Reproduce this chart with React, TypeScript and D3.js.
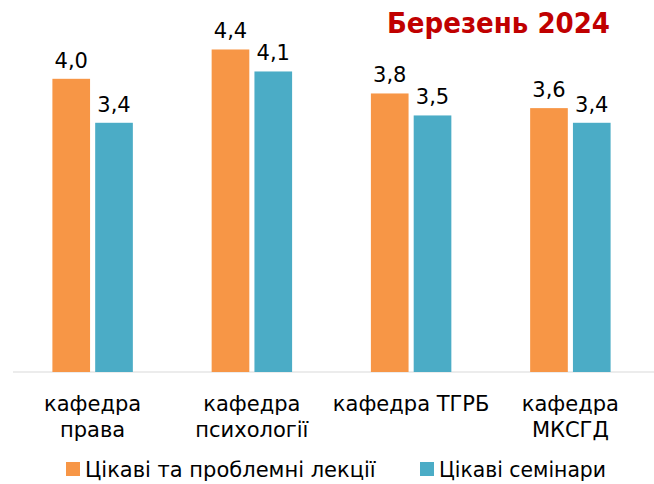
import React from "react";
import * as d3 from "d3";

const categories = ["кафедра права", "кафедра психології", "кафедра ТГРБ", "кафедра МКСГД"];
const categoryLines = [["кафедра", "права"], ["кафедра", "психології"], ["кафедра ТГРБ"], ["кафедра", "МКСГД"]];
const seriesNames = ["Цікаві та проблемні лекції", "Цікаві семінари"];
const lectures = [4.0, 4.4, 3.8, 3.6];
const seminars = [3.4, 4.1, 3.5, 3.4];
const title = "Березень 2024";

const W = 654;
const H = 484;
const colors = ["#F79646", "#4BACC6"];
const font = "'DejaVu Sans', sans-serif";
const titleFont = "'DejaVu Sans Condensed', 'DejaVu Sans', sans-serif";

export default function App() {
  const x = d3.scaleBand<string>().domain(categories).range([13, 650]).paddingInner(0).paddingOuter(0);
  const inner = d3.scaleBand<number>().domain([0, 1]).range([39.4, x.bandwidth() - 39.4]).paddingInner(0.12);
  const y = d3.scaleLinear().domain([0, 5]).range([372, 5.5]);
  const series = [lectures, seminars];
  const fmt = (v: number) => v.toFixed(1).replace(".", ",");

  return (
    <svg width={W} height={H} style={{ position: "absolute", left: 0, top: 0, background: "#fff" }} fontFamily={font}>
      <line x1={13} x2={654} y1={y(0)} y2={y(0)} stroke="#D9D9D9" strokeWidth={1} />
      {categories.map((c, i) =>
        series.map((s, k) => {
          const bx = (x(c) as number) + (inner(k) as number);
          const bw = inner.bandwidth();
          return (
            <g key={c + k}>
              <rect x={bx} y={y(s[i])} width={bw} height={y(0) - y(s[i])} fill={colors[k]} />
              <text x={bx + bw / 2} y={y(s[i]) - 11} textAnchor="middle" fontSize={21} fill="#000">
                {fmt(s[i])}
              </text>
            </g>
          );
        })
      )}
      {categories.map((c, i) => (
        <text key={c} x={(x(c) as number) + x.bandwidth() / 2} textAnchor="middle" fontSize={21} fill="#000">
          {categoryLines[i].map((l, j) => (
            <tspan key={j} x={(x(c) as number) + x.bandwidth() / 2} y={411 + j * 26}>
              {l}
            </tspan>
          ))}
        </text>
      ))}
      <text x={610} y={33} textAnchor="end" fontSize={29} fontWeight="bold" fill="#C00000" fontFamily={titleFont}>
        {title}
      </text>
      <g>
        <rect x={66} y={462} width={14} height={14} fill={colors[0]} />
        <text x={85} y={476.5} fontSize={21} fill="#000">{seriesNames[0]}</text>
        <rect x={420} y={462} width={14} height={14} fill={colors[1]} />
        <text x={439} y={476.5} fontSize={21} fill="#000" textLength={167} lengthAdjust="spacingAndGlyphs">{seriesNames[1]}</text>
      </g>
    </svg>
  );
}
